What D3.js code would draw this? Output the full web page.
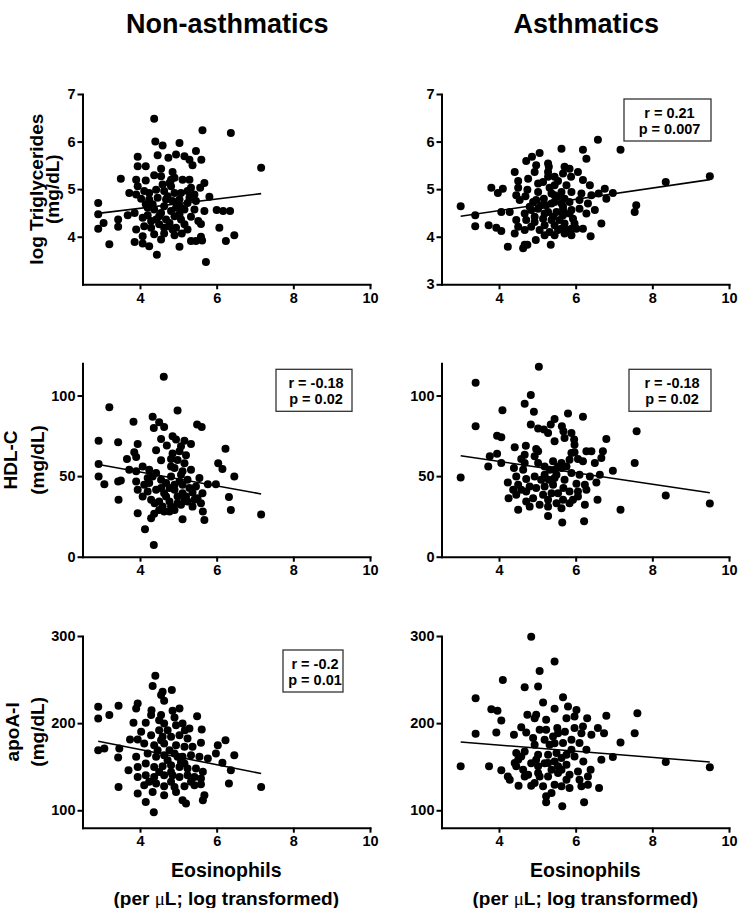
<!DOCTYPE html>
<html><head><meta charset="utf-8">
<script src="https://cdn.jsdelivr.net/npm/d3@7"></script>
<style>
body{margin:0;background:#fff}
svg text{font-family:"Liberation Sans",Arial,Helvetica,sans-serif;font-weight:bold;fill:#000}
</style>
</head><body><svg id="c" width="739" height="908"></svg>
<script>
// ---------------- DATA ----------------
const groups = ["Non-asthmatics", "Asthmatics"];
const yTitles = [["log Triglycerides", "(mg/dL)"], ["HDL-C", "(mg/dL)"], ["apoA-I", "(mg/dL)"]];
const xTitle = ["Eosinophils", "(per ", "\u03bc", "L; log transformed)"];
const xDomain = [2.5, 10];
const xTicks = [4, 6, 8, 10];
const yDomains = [[3, 7], [0, 120], [80, 300]];
const yTicksTG_non = [4, 5, 6, 7];
const yTicksTG_asth = [3, 4, 5, 6, 7];
const yTicksHDL = [0, 50, 100];
const yTicksApoA = [100, 200, 300];

// [eosinophils, value]
const nonTG = [[4.37,6.48],[5.63,6.24],[6.37,6.18],[4.40,6.00],[4.59,5.92],[5.03,5.97],[3.94,5.68],[4.46,5.71],[4.74,5.66],[4.94,5.73],[5.16,5.69],[5.29,5.62],[5.46,5.80],[5.60,5.62],[5.37,5.50],[3.94,5.48],[4.15,5.48],[4.55,5.43],[4.85,5.36],[3.50,5.22],[3.90,5.20],[4.15,5.18],[4.37,5.29],[4.55,5.27],[4.81,5.20],[5.11,5.20],[5.29,5.20],[5.68,5.13],[5.57,5.03],[3.94,5.06],[3.72,4.92],[3.90,4.89],[4.11,4.96],[4.42,4.99],[4.63,4.96],[4.81,5.06],[4.90,4.92],[5.07,4.92],[5.24,4.96],[5.42,4.89],[5.81,4.84],[4.03,4.80],[4.24,4.78],[4.46,4.82],[4.68,4.78],[4.85,4.75],[5.03,4.78],[5.24,4.71],[5.46,4.75],[4.20,4.61],[4.37,4.57],[4.63,4.64],[4.94,4.61],[5.16,4.57],[5.42,4.57],[5.68,4.54],[2.91,4.71],[2.91,4.47],[3.05,4.29],[2.91,4.17],[3.43,4.36],[3.43,4.21],[3.68,4.45],[3.86,4.50],[4.07,4.40],[4.20,4.45],[4.42,4.36],[4.68,4.36],[4.90,4.43],[5.07,4.36],[5.33,4.42],[5.52,4.33],[6.00,4.56],[6.17,4.54],[6.35,4.54],[4.11,4.22],[4.29,4.19],[4.50,4.26],[4.77,4.22],[4.94,4.19],[5.16,4.26],[5.59,4.27],[3.90,4.15],[6.07,4.19],[4.07,4.01],[4.37,4.05],[4.63,4.07],[4.90,4.03],[5.09,4.07],[5.33,3.91],[5.46,3.91],[5.59,4.00],[6.46,4.03],[6.24,3.91],[3.20,3.84],[3.86,3.89],[4.07,3.86],[4.24,3.80],[4.55,3.94],[5.03,3.79],[4.44,3.62],[5.72,3.47],[7.16,5.45],[4.77,5.13],[4.72,4.85],[4.98,4.68],[4.55,4.50],[4.81,4.54],[5.03,4.47],[4.33,4.68],[4.59,5.10],[4.90,5.24],[4.50,4.43],[4.77,4.29],[4.29,4.33],[5.07,4.61],[5.29,4.82],[4.15,4.68],[4.85,4.15],[4.63,4.19],[5.24,4.15],[4.24,4.92],[5.33,5.03],[5.62,3.92]];

const asthTG = [[3.00,4.64],[3.38,4.45],[3.38,4.22],[3.73,4.24],[3.93,4.19],[4.06,4.12],[3.80,5.03],[3.97,4.92],[4.10,5.01],[4.06,4.52],[4.28,4.52],[4.23,3.79],[4.41,5.36],[4.50,5.17],[4.50,5.03],[4.45,4.87],[4.54,4.77],[4.71,5.59],[4.86,5.68],[4.76,5.22],[4.74,4.99],[4.69,4.85],[4.97,5.50],[5.06,5.76],[4.93,5.36],[5.02,5.12],[5.02,4.94],[4.89,4.73],[4.80,4.63],[4.67,4.49],[4.71,4.35],[4.45,4.35],[4.50,4.21],[4.41,4.07],[4.67,4.14],[4.67,3.83],[4.74,3.83],[4.96,3.93],[4.63,3.76],[5.35,3.83],[5.28,5.54],[5.30,5.47],[5.63,5.85],[5.28,5.26],[5.45,5.26],[5.67,5.33],[5.84,5.43],[6.06,5.36],[5.88,5.26],[6.19,5.83],[6.28,5.64],[6.58,6.04],[7.17,5.83],[5.15,5.15],[5.45,5.08],[5.76,5.08],[6.19,5.19],[6.37,5.08],[6.76,5.01],[6.97,4.92],[6.80,4.80],[6.60,4.91],[6.41,4.87],[6.15,4.91],[5.89,4.94],[5.63,4.94],[5.37,4.91],[5.17,4.80],[4.97,4.77],[5.23,4.66],[5.45,4.73],[5.63,4.70],[5.84,4.73],[6.10,4.77],[6.32,4.70],[6.50,4.56],[7.58,4.66],[7.54,4.52],[5.02,4.59],[5.28,4.52],[5.50,4.52],[5.67,4.56],[5.89,4.56],[6.10,4.59],[5.15,4.38],[5.41,4.42],[5.67,4.45],[5.93,4.38],[6.28,4.49],[4.93,4.31],[5.19,4.24],[5.45,4.24],[5.71,4.28],[5.97,4.28],[6.67,4.28],[5.06,4.14],[5.32,4.10],[5.54,4.14],[5.80,4.14],[6.02,4.17],[6.19,4.17],[5.45,4.03],[5.71,4.07],[5.89,4.03],[6.39,4.01],[5.19,4.03],[4.84,4.21],[4.93,4.42],[5.37,4.70],[5.54,4.84],[5.71,4.80],[5.32,5.03],[5.54,5.17],[5.28,5.36],[5.71,5.47],[8.35,5.15],[9.50,5.27],[5.45,4.87],[5.67,4.63],[5.19,4.49],[5.84,4.49],[5.58,4.35],[5.37,4.35],[5.10,4.66],[5.89,4.17],[4.84,4.56],[5.63,4.17]];

const nonHDL = [[4.62,111.7],[3.20,92.8],[4.98,90.7],[3.83,83.7],[4.33,86.8],[4.36,79.9],[4.50,83.5],[4.63,80.5],[5.49,82.0],[5.61,80.5],[2.92,72.0],[3.43,71.0],[3.94,70.0],[4.55,73.0],[4.85,74.7],[4.94,72.7],[5.16,72.0],[5.33,70.0],[5.07,68.5],[4.42,66.0],[4.70,69.0],[5.03,65.4],[6.23,67.0],[3.85,64.8],[3.90,61.9],[3.66,60.6],[4.55,59.8],[4.81,60.6],[5.16,58.0],[2.92,57.5],[6.04,58.0],[6.15,54.4],[3.72,54.0],[3.90,53.0],[4.07,56.0],[4.24,54.0],[4.42,52.0],[4.90,55.0],[5.11,53.0],[5.33,54.0],[2.92,49.8],[3.07,45.0],[3.43,46.7],[3.50,47.3],[3.44,35.3],[6.46,49.8],[3.90,46.7],[4.11,44.6],[4.33,49.8],[4.55,47.7],[4.81,49.8],[5.03,46.7],[5.24,47.7],[5.55,48.8],[5.77,45.0],[5.98,45.0],[3.94,41.5],[4.20,40.5],[4.42,41.5],[4.63,39.4],[4.90,41.5],[5.11,39.4],[5.37,39.9],[5.63,39.4],[4.07,37.4],[4.29,35.3],[4.50,34.2],[4.77,34.2],[4.98,33.2],[5.24,34.2],[5.42,35.3],[5.59,33.2],[6.32,37.0],[4.38,33.2],[4.59,31.1],[4.81,31.1],[5.07,32.2],[5.37,31.1],[4.50,29.0],[4.77,28.0],[6.37,29.0],[3.94,27.0],[4.37,26.6],[4.29,23.9],[5.11,23.2],[5.68,22.8],[5.64,28.0],[7.16,26.2],[4.13,17.0],[4.36,7.3],[4.68,45.7],[4.90,44.6],[5.11,44.6],[4.55,42.6],[4.77,42.6],[4.98,37.4],[5.20,37.4],[4.68,37.4],[4.20,48.8],[4.81,56.0],[4.98,60.0],[5.20,63.0],[4.85,64.0],[5.46,43.6],[5.29,42.6],[5.50,36.3],[4.90,29.0],[4.63,28.0],[4.24,45.7],[5.07,50.8],[5.16,35.3]];

const asthHDL = [[5.04,117.9],[3.39,108.0],[4.83,100.3],[4.67,94.9],[4.09,90.9],[4.91,89.9],[3.39,81.0],[4.83,82.0],[5.02,79.5],[5.17,78.9],[5.28,76.8],[5.45,85.5],[5.35,82.0],[5.64,81.0],[5.80,88.9],[6.19,86.8],[5.68,77.8],[5.71,73.7],[5.89,76.8],[5.96,72.7],[5.97,69.5],[5.45,71.6],[6.80,73.0],[7.59,77.8],[7.54,58.1],[3.95,75.1],[4.06,74.1],[4.41,67.9],[4.70,68.9],[4.97,66.8],[5.02,65.4],[4.67,63.3],[4.58,60.6],[3.76,62.3],[3.95,63.9],[3.72,56.0],[4.06,58.1],[3.00,49.2],[4.39,55.0],[4.63,54.0],[4.67,58.1],[4.93,62.3],[5.97,64.8],[6.06,60.6],[6.28,65.4],[6.41,65.4],[6.71,65.4],[6.50,58.1],[6.67,61.2],[6.97,53.4],[5.41,59.2],[5.63,58.1],[5.84,60.2],[6.19,59.2],[4.45,49.8],[4.23,46.1],[4.50,44.6],[4.71,48.2],[4.93,49.8],[5.19,50.9],[5.45,54.0],[5.63,55.0],[5.89,51.9],[6.10,50.9],[6.37,49.8],[6.63,50.9],[6.54,46.1],[5.45,48.8],[5.71,47.7],[6.02,45.3],[6.24,44.6],[4.25,36.3],[4.45,38.4],[4.71,40.5],[4.97,42.6],[5.19,43.6],[5.41,44.6],[5.68,42.6],[5.84,40.5],[6.06,40.5],[6.28,41.5],[4.50,29.1],[4.71,34.3],[4.89,36.3],[5.06,32.2],[5.28,35.3],[5.50,33.2],[5.67,35.3],[5.84,33.2],[6.06,37.4],[6.24,32.2],[6.57,35.3],[7.17,29.1],[5.28,25.3],[5.63,30.1],[5.65,21.2],[6.22,22.0],[5.02,58.1],[5.19,56.0],[5.89,64.4],[8.35,38.0],[9.50,33.0],[5.32,54.0],[5.50,50.9],[5.10,47.7],[5.30,47.7],[4.80,43.6],[5.54,39.4],[5.15,38.4],[5.37,39.4],[4.58,41.5],[4.80,31.1],[5.28,31.1],[5.93,35.3],[5.54,56.0],[5.76,56.0],[4.37,41.5]];

const nonApoA = [[4.40,254.4],[4.33,242.5],[4.59,236.0],[4.55,232.2],[4.83,237.9],[4.63,225.7],[2.91,218.8],[2.91,205.4],[3.20,209.2],[3.44,219.9],[3.94,222.6],[3.90,216.8],[4.30,214.9],[4.29,209.2],[4.55,209.2],[4.85,214.2],[5.03,216.8],[4.90,206.5],[4.63,199.6],[3.83,200.4],[4.15,200.4],[4.50,203.4],[5.11,199.6],[5.49,208.0],[4.94,197.7],[5.17,191.9],[5.61,192.7],[4.72,191.9],[4.50,191.9],[4.03,190.0],[4.29,186.2],[4.59,184.3],[4.81,184.3],[5.03,186.2],[5.24,182.4],[3.74,181.2],[3.94,181.2],[5.59,177.4],[6.23,180.5],[6.03,174.7],[2.91,169.0],[3.07,170.9],[3.46,170.9],[4.11,176.6],[4.37,174.7],[4.63,176.6],[4.94,174.7],[5.16,172.8],[5.37,172.8],[5.98,165.1],[5.77,159.4],[6.46,163.2],[3.43,160.5],[3.90,161.3],[4.20,165.1],[4.42,161.3],[4.63,163.2],[4.90,165.1],[5.11,161.3],[5.33,163.2],[5.55,161.3],[6.15,154.4],[6.37,146.0],[3.70,146.0],[3.94,149.8],[4.15,153.6],[4.37,149.8],[4.59,150.6],[4.81,151.7],[5.03,149.8],[5.24,147.9],[5.46,147.9],[5.64,144.1],[3.94,138.3],[4.15,140.2],[4.37,138.3],[4.63,140.2],[4.85,140.2],[5.03,138.3],[5.24,140.2],[5.42,138.3],[5.59,136.4],[4.11,128.7],[4.42,130.6],[4.63,127.6],[4.90,126.8],[5.16,127.6],[5.42,128.7],[5.59,129.9],[6.32,130.6],[7.16,126.8],[3.44,126.8],[3.94,119.2],[4.33,121.1],[4.63,117.2],[4.94,121.1],[5.11,111.5],[5.20,107.7],[5.68,117.2],[5.64,111.5],[4.15,109.6],[4.36,97.7],[4.77,169.0],[4.98,161.3],[4.46,169.0],[4.72,157.5],[5.07,155.5],[4.50,144.0],[5.16,153.6],[4.81,132.6],[4.24,132.6],[5.33,132.6],[4.81,144.0],[4.55,180.5],[5.29,193.8]];

const asthApoA = [[4.84,299.2],[5.45,270.6],[5.06,259.9],[4.10,249.6],[4.67,241.2],[5.02,242.0],[3.39,228.6],[5.67,229.7],[5.15,223.6],[3.80,216.0],[3.96,214.1],[4.06,203.0],[4.74,209.5],[4.97,209.5],[5.45,216.4],[5.80,219.0],[6.02,215.2],[5.97,207.6],[6.30,205.7],[6.80,208.4],[7.61,211.4],[3.39,187.8],[3.93,189.3],[4.58,195.4],[4.39,186.6],[4.71,189.3],[4.93,205.7],[5.23,203.8],[5.52,194.3],[5.76,205.7],[5.97,194.3],[6.19,196.2],[6.41,186.6],[6.58,194.3],[6.74,188.5],[7.17,177.8],[7.54,188.5],[3.00,150.4],[3.74,150.4],[4.06,145.8],[4.23,138.9],[4.28,135.1],[4.51,128.2],[4.41,154.2],[4.58,161.8],[4.63,146.6],[4.76,140.8],[4.84,128.2],[4.97,158.0],[4.93,175.2],[4.89,182.8],[5.06,192.3],[5.41,184.7],[5.32,175.2],[5.19,180.9],[5.54,188.5],[5.67,177.1],[5.89,180.9],[6.10,177.1],[6.28,169.5],[6.15,188.5],[4.45,165.6],[4.67,167.5],[5.02,163.7],[5.28,163.7],[5.50,165.6],[5.76,163.7],[5.97,161.8],[6.67,158.0],[6.97,161.0],[4.45,150.4],[5.02,150.4],[5.28,154.2],[5.54,150.4],[5.76,152.3],[6.20,156.1],[4.67,138.9],[5.02,142.7],[5.28,138.9],[5.54,142.7],[5.84,140.8],[6.06,144.6],[6.32,138.9],[6.10,135.1],[6.39,146.6],[4.93,131.3],[5.15,127.5],[5.45,129.4],[5.63,127.5],[5.84,125.6],[6.15,127.5],[6.32,129.4],[6.61,125.6],[5.23,116.0],[5.37,119.8],[5.23,109.2],[6.22,109.2],[5.65,104.6],[8.35,155.4],[9.50,149.3],[5.45,177.0],[5.63,160.0],[5.19,154.0],[5.37,146.6],[5.76,135.0],[5.06,138.9],[4.84,154.0],[5.72,190.0],[5.45,156.0],[5.89,169.5],[5.63,146.6],[5.23,192.3],[4.50,158.0]];

// regression fits (slope, intercept)
const fitSlopes = [0.098, 0.1185, -4.31, -3.54, -8.73, -3.54];
const fitIntercepts = [4.205, 4.075, 69.8, 73.3, 204.7, 189.0];
// correlation annotations (null = none shown)
const statR = [null, "r = 0.21", "r = -0.18", "r = -0.18", "r = -0.2", null];
const statP = [null, "p = 0.007", "p = 0.02", "p = 0.02", "p = 0.01", null];

// ---------------- LAYOUT ----------------
const colRange = [[82.5, 370], [441.5, 729]];
const rowRange = [[284.3, 94], [556.7, 363.3], [827.7, 636]];
// stat box: left offset from plot left, top offset from plot top, width, height
const statBox = [null, [182.5, 5, 87, 42], [193.5, 6, 76, 42], [187.5, 6, 82, 42], [200.5, 14, 60, 42], null];
// baselines (x) of the two y-title lines per row
const yTitleX = [[43, 59], [17, 44], [19, 44]];

const panels = [
  {data: nonTG, row: 0, col: 0, yTicks: yTicksTG_non},
  {data: asthTG, row: 0, col: 1, yTicks: yTicksTG_asth},
  {data: nonHDL, row: 1, col: 0, yTicks: yTicksHDL},
  {data: asthHDL, row: 1, col: 1, yTicks: yTicksHDL},
  {data: nonApoA, row: 2, col: 0, yTicks: yTicksApoA},
  {data: asthApoA, row: 2, col: 1, yTicks: yTicksApoA}
];

const svg = d3.select("#c");
svg.append("rect").attr("width", 739).attr("height", 908).attr("fill", "#fff");

function styleAxis(g) {
  g.select(".domain").attr("stroke", "#000").attr("stroke-width", 2).attr("stroke-linecap", "square");
  g.selectAll(".tick line").attr("stroke", "#000").attr("stroke-width", 2);
  g.selectAll(".tick text").attr("font-size", 14.5).attr("font-weight", "bold")
    .attr("font-family", "'Liberation Sans', Arial, sans-serif").attr("fill", "#000");
}

panels.forEach((p, i) => {
  const x = d3.scaleLinear().domain(xDomain).range(colRange[p.col]);
  const y = d3.scaleLinear().domain(yDomains[p.row]).range(rowRange[p.row]);
  const g = svg.append("g");

  const xs = d3.extent(p.data, d => d[0]);
  const fit = xs.map(v => [v, fitSlopes[i] * v + fitIntercepts[i]]);

  g.append("g").selectAll("circle").data(p.data).join("circle")
    .attr("cx", d => x(d[0])).attr("cy", d => y(d[1])).attr("r", 4).attr("fill", "#000");

  g.append("path").datum(fit)
    .attr("d", d3.line().x(d => x(d[0])).y(d => y(d[1])))
    .attr("stroke", "#000").attr("stroke-width", 1.6).attr("fill", "none");

  const xa = g.append("g").attr("transform", `translate(0,${rowRange[p.row][0]})`)
    .call(d3.axisBottom(x).tickValues(xTicks).tickFormat(d3.format("d"))
      .tickSize(5).tickSizeOuter(0).tickPadding(3));
  styleAxis(xa);
  const ya = g.append("g").attr("transform", `translate(${colRange[p.col][0]},0)`)
    .call(d3.axisLeft(y).tickValues(p.yTicks).tickFormat(d3.format("d"))
      .tickSize(5).tickSizeOuter(0).tickPadding(2));
  styleAxis(ya);

  if (statR[i]) {
    const b = statBox[i];
    const bx = colRange[p.col][0] + b[0], by = rowRange[p.row][1] + b[1];
    g.append("rect").attr("x", bx).attr("y", by).attr("width", b[2]).attr("height", b[3])
      .attr("fill", "#fff").attr("stroke", "#333").attr("stroke-width", 1.3);
    g.append("text").attr("x", bx + b[2] / 2 + 2).attr("y", by + 19).attr("text-anchor", "middle")
      .attr("font-size", 14.5).text(statR[i]);
    g.append("text").attr("x", bx + b[2] / 2 + 2).attr("y", by + 35).attr("text-anchor", "middle")
      .attr("font-size", 14.5).text(statP[i]);
  }
});

groups.forEach((t, c) => {
  svg.append("text").attr("x", (colRange[c][0] + colRange[c][1]) / 2 + 1).attr("y", 33)
    .attr("text-anchor", "middle").attr("font-size", 27).text(t);
});

yTitles.forEach((lines, r) => {
  const cy = (rowRange[r][0] + rowRange[r][1]) / 2;
  lines.forEach((t, k) => {
    svg.append("text").attr("transform", `translate(${yTitleX[r][k]},${cy}) rotate(-90)`)
      .attr("text-anchor", "middle").attr("font-size", 19).text(t);
  });
});

[0, 1].forEach(c => {
  const cx = (colRange[c][0] + colRange[c][1]) / 2;
  svg.append("text").attr("x", cx).attr("y", 877).attr("text-anchor", "middle")
    .attr("font-size", 19.5).text(xTitle[0]);
  const t = svg.append("text").attr("x", cx).attr("y", 905).attr("text-anchor", "middle").attr("font-size", 19);
  t.append("tspan").text(xTitle[1]);
  t.append("tspan").attr("font-family", "'Liberation Serif', serif").attr("font-weight", "normal").text(xTitle[2]);
  t.append("tspan").text(xTitle[3]);
});
</script>
</body></html>
